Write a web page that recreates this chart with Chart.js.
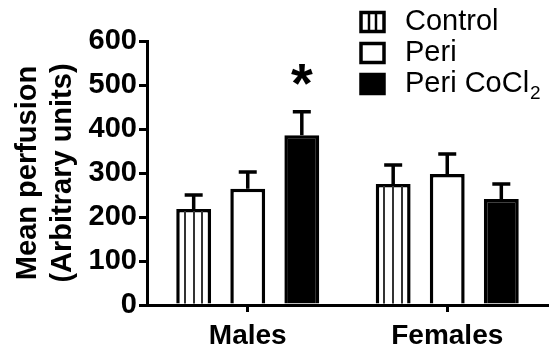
<!DOCTYPE html>
<html>
<head>
<meta charset="utf-8">
<script src="https://cdn.jsdelivr.net/npm/chart.js@4/dist/chart.umd.min.js"></script>
<style>
  html, body { margin: 0; padding: 0; background: #fff; }
  #wrap { width: 552px; height: 350px; }
</style>
</head>
<body>
<div id="wrap"><canvas id="c" width="552" height="350"></canvas></div>
<script>
const categories = ['Males', 'Females'];
const seriesLabels = ['Control', 'Peri', 'Peri CoCl\u2082'];
const controlMean = [218, 275];
const controlSEM = [32, 43];
const periMean = [264, 298];
const periSEM = [38, 45];
const cocl2Mean = [386, 241];
const cocl2SEM = [53, 34];
const cocl2Significance = ['*', ''];
const yTickValues = [0, 100, 200, 300, 400, 500, 600];

const FONT = "'Liberation Sans', Arial, Helvetica, sans-serif";

const errors = [controlSEM, periSEM, cocl2SEM];
const marks = [['', ''], ['', ''], cocl2Significance];

const stripePlugin = {
  id: 'stripes',
  afterDatasetsDraw(chart) {
    const ctx = chart.ctx;
    const meta = chart.getDatasetMeta(0);
    ctx.save();
    ctx.strokeStyle = '#333';
    ctx.lineWidth = 2;
    meta.data.forEach(el => {
      const p = el.getProps(['x', 'y', 'base', 'width'], true);
      const left = p.x - p.width / 2;
      [0.25, 0.5, 0.75].forEach(f => {
        const x = Math.round(left + p.width * f);
        ctx.beginPath();
        ctx.moveTo(x, p.y + 2);
        ctx.lineTo(x, p.base);
        ctx.stroke();
      });
    });
    ctx.restore();
  }
};

const errorPlugin = {
  id: 'errbars',
  afterDatasetsDraw(chart) {
    const ctx = chart.ctx;
    const yScale = chart.scales.y;
    ctx.save();
    ctx.strokeStyle = '#000';
    ctx.fillStyle = '#000';
    ctx.lineWidth = 3.5;
    chart.data.datasets.forEach((ds, di) => {
      const meta = chart.getDatasetMeta(di);
      meta.data.forEach((el, i) => {
        const p = el.getProps(['x', 'y'], true);
        const top = yScale.getPixelForValue(ds.data[i] + errors[di][i]);
        ctx.beginPath();
        ctx.moveTo(p.x, p.y);
        ctx.lineTo(p.x, top);
        ctx.moveTo(p.x - 9, top);
        ctx.lineTo(p.x + 9, top);
        ctx.stroke();
        const m = marks[di][i];
        if (m) {
          ctx.font = 'bold 56px ' + FONT;
          ctx.textAlign = 'center';
          ctx.textBaseline = 'alphabetic';
          ctx.fillText(m, p.x, top - 10);
        }
      });
    });
    ctx.restore();
  }
};

const legendPlugin = {
  id: 'customLegend',
  afterDraw(chart) {
    const ctx = chart.ctx;
    ctx.save();
    const rows = [22, 53, 84];
    chart.data.datasets.forEach((ds, di) => {
      const cy = rows[di];
      const bx = 361, bw = 23, bh = 19;
      const by = cy - bh / 2;
      ctx.lineWidth = 3.5;
      ctx.strokeStyle = '#000';
      ctx.fillStyle = ds.backgroundColor;
      ctx.fillRect(bx, by, bw, bh);
      ctx.strokeRect(bx, by, bw, bh);
      if (di === 0) {
        ctx.lineWidth = 2.5;
        [1 / 3, 2 / 3].forEach(f => {
          const x = Math.round(bx + bw * f);
          ctx.beginPath();
          ctx.moveTo(x, by);
          ctx.lineTo(x, by + bh);
          ctx.stroke();
        });
      }
      ctx.fillStyle = '#000';
      ctx.textAlign = 'left';
      ctx.textBaseline = 'middle';
      ctx.font = '29px ' + FONT;
      let label = ds.label;
      let sub = '';
      if (label.endsWith('\u2082')) { label = label.slice(0, -1); sub = '2'; }
      ctx.fillText(label, 405, cy);
      if (sub) {
        const w = ctx.measureText(label).width;
        ctx.font = '19px ' + FONT;
        ctx.fillText(sub, 405 + w + 1, cy + 10);
      }
    });
    ctx.restore();
  }
};

new Chart(document.getElementById('c'), {
  type: 'bar',
  data: {
    labels: categories,
    datasets: [
      { label: seriesLabels[0], data: controlMean, backgroundColor: '#ffffff', borderColor: '#000', borderWidth: 3.5 },
      { label: seriesLabels[1], data: periMean, backgroundColor: '#ffffff', borderColor: '#000', borderWidth: 3.5 },
      { label: seriesLabels[2], data: cocl2Mean, backgroundColor: '#000000', borderColor: '#000', borderWidth: 3.5 }
    ]
  },
  options: {
    responsive: false,
    animation: false,
    devicePixelRatio: 1,
    categoryPercentage: 0.813,
    barPercentage: 0.645,
    layout: { padding: { top: 41, right: 5, left: 11, bottom: -10 } },
    plugins: { legend: { display: false }, tooltip: { enabled: false } },
    scales: {
      x: {
        grid: { drawOnChartArea: false, drawTicks: true, tickLength: 7, color: '#000', lineWidth: 3, offset: false },
        border: { display: true, color: '#000', width: 3 },
        ticks: { color: '#000', font: { family: FONT, size: 28, weight: 'bold', lineHeight: 1.0 }, padding: 10 }
      },
      y: {
        min: 0,
        max: 600,
        afterBuildTicks(scale) { scale.ticks = yTickValues.map(v => ({ value: v })); },
        grid: { drawOnChartArea: false, drawTicks: true, tickLength: 9, color: '#000', lineWidth: 3 },
        border: { display: true, color: '#000', width: 3 },
        ticks: { color: '#000', font: { family: FONT, size: 29, weight: 'bold' }, padding: 2 },
        title: {
          display: true,
          text: ['Mean perfusion', '(Arbitrary units)'],
          color: '#000',
          font: { family: FONT, size: 29, weight: 'bold', lineHeight: 1.2 },
          padding: { top: 0, bottom: 6 }
        }
      }
    }
  },
  plugins: [stripePlugin, errorPlugin, legendPlugin]
});
</script>
</body>
</html>
